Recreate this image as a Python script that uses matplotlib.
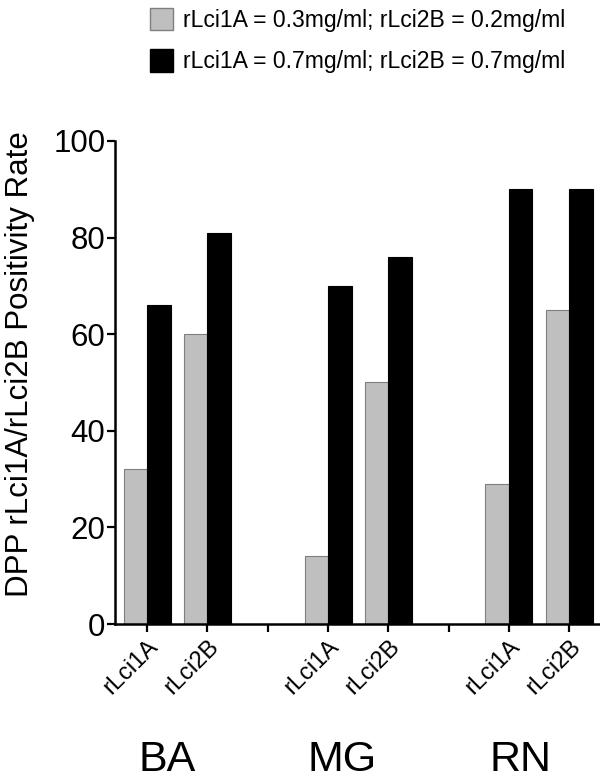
import matplotlib
matplotlib.use("Agg")
import matplotlib.pyplot as plt
import matplotlib.patches as mpatches
import numpy as np

plt.rcParams['font.family'] = ['Liberation Sans', 'DejaVu Sans']

groups = ["BA", "MG", "RN"]
antigens = ["rLci1A", "rLci2B"]
low_conc = [32, 60, 14, 50, 29, 65]     # grey bars
high_conc = [66, 81, 70, 76, 90, 90]    # black bars
legend_labels = ["rLci1A = 0.3mg/ml; rLci2B = 0.2mg/ml",
                 "rLci1A = 0.7mg/ml; rLci2B = 0.7mg/ml"]

# slot positions: two antigens per group, one empty slot between groups
pos = [0, 1, 3, 4, 6, 7]
gap_ticks = [2, 5]

fig = plt.figure(figsize=(6, 7.81), dpi=100)
ax = fig.add_axes([0.192, 0.201, 0.808, 0.6185])

w = 0.39
ax.bar(np.array(pos) - w / 2, low_conc, width=w, color="#bfbfbf",
       edgecolor="#7f7f7f", linewidth=0.8)
ax.bar(np.array(pos) + w / 2, high_conc, width=w, color="black",
       edgecolor="black", linewidth=0.8)

ax.set_xlim(-0.53, 7.51)
ax.set_ylim(0, 100)
ax.set_yticks([0, 20, 40, 60, 80, 100])
ax.tick_params(axis="y", labelsize=22.5, length=6, width=1.6, pad=1)
ax.tick_params(axis="x", labelsize=17, length=6, width=1.6, pad=2)

ax.set_xticks(pos + gap_ticks)
ax.set_xticklabels(antigens * 3 + ["", ""], rotation=45, ha="right",
                   rotation_mode="anchor")

for s in ["top", "right"]:
    ax.spines[s].set_visible(False)
for s in ["left", "bottom"]:
    ax.spines[s].set_linewidth(1.8)

ax.set_ylabel("DPP rLci1A/rLci2B Positivity Rate", fontsize=22.5)
ax.yaxis.set_label_coords(-0.166, 0.538)

group_x = [0.33, 3.23, 6.19]
for g, gx in zip(groups, group_x):
    ax.annotate(g, xy=(gx, 0.013), xycoords=("data", "figure fraction"),
                ha="center", va="baseline", fontsize=31)

handles = [mpatches.Patch(facecolor="#bfbfbf", edgecolor="#7f7f7f"),
           mpatches.Patch(facecolor="black", edgecolor="black")]
fig.legend(handles, legend_labels, loc="upper left",
           bbox_to_anchor=(0.215, 1.016), frameon=False, fontsize=16.6,
           handlelength=1.0, handleheight=1.1, handletextpad=0.45,
           labelspacing=0.75)

fig.savefig("out.png", dpi=100)
